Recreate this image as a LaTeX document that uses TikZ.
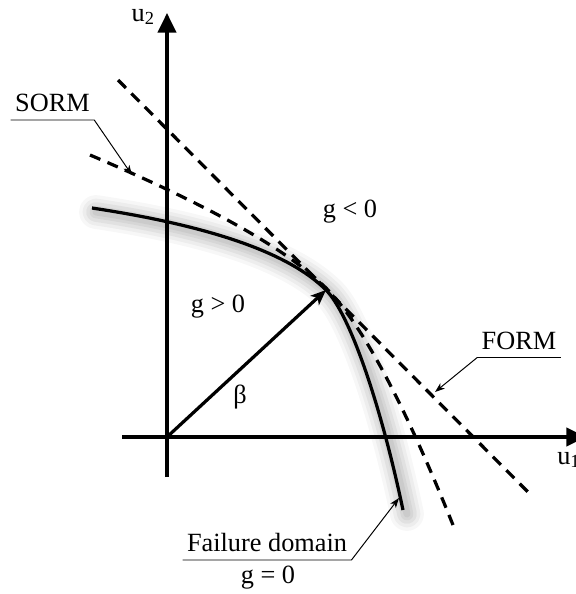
\documentclass[tikz,border=0pt]{standalone}
\usepackage{fontspec}
\setmainfont{Liberation Serif}
\usetikzlibrary{arrows.meta}

\begin{document}
\begin{tikzpicture}[
    x=0.025cm, y=-0.025cm,
    font=\fontsize{18.7}{22}\selectfont,
    axis/.style={line width=2.3pt, -{Triangle[length=14pt, width=13pt]}},
    limitstate/.style={line width=2.3pt},
    approx/.style={line width=2.3pt, dash pattern=on 8pt off 5.5pt},
    vector/.style={line width=2.3pt, -{Stealth[length=11pt, width=9pt, inset=3pt]}},
    pointer/.style={line width=0.7pt, -{Stealth[length=7pt, width=5pt, inset=2pt]}},
    lbl/.style={inner xsep=3pt, inner ysep=5.7pt, text depth=0pt},
    txt/.style={inner sep=0pt}
]
\useasboundingbox (0,0) rectangle (576,594);

% Shadow of the limit state curve
\foreach \w/\o in {24pt/0.03, 19pt/0.04, 14pt/0.05, 9pt/0.05, 5pt/0.05}
  \draw[line width=\w, black, opacity=\o, line cap=round, line join=round, shift={(4,4)}]
    (92,208) .. controls (211,226) and (289,253) .. (326,290)
    .. controls (349,313) and (380,401) .. (403,510);

% Axes
\coordinate (O) at (167,437);
\coordinate (u2low) at (167,477);
\coordinate (u2top) at (167,13);
\coordinate (u1low) at (122,437);
\coordinate (u1top) at (586,437);
\draw[axis] (u2low) -- (u2top);
\draw[axis] (u1low) -- (u1top);
\node[txt, anchor=base east] (u2) at (155,21) {u\textsubscript{2}};
\node[txt, anchor=base west] (u1) at (557,464) {u\textsubscript{1}};

% Limit state g = 0
\draw[limitstate] (92,208) .. controls (211,226) and (289,253) .. (326,290)
    .. controls (349,313) and (380,401) .. (403,510);

% FORM tangent
\draw[approx] (118,80) -- (528,492);

% SORM approximation
\draw[approx] (90,155) .. controls (208,205) and (287,249) .. (326,288)
    .. controls (362,324) and (404,403) .. (453,525);

% Reliability index
\coordinate (P) at (326,290);
\draw[vector] (O) -- (P);
\node[txt] (beta) at (240,397) {β};

% Regions
\node[txt] (gneg) at (350,212) {g < 0};
\node[txt] (gpos) at (218,307) {g > 0};

% Callouts
\node[lbl, anchor=south] (sorm) at (52.5,120) {SORM};
\coordinate (sormtip) at (132,175);
\draw[pointer] (sorm.south west) -- (sorm.south east) -- (sormtip);

\node[lbl, anchor=south] (form) at (519,357.5) {FORM};
\coordinate (formtip) at (435,392);
\draw[pointer] (form.south east) -- (form.south west) -- (formtip);

\node[lbl, anchor=south] (fail) at (267,560) {Failure domain};
\coordinate (failtip) at (399,498);
\draw[pointer] (fail.south west) -- (fail.south east) -- (failtip);
\node[txt] (gzero) at (268,578) {g = 0};

\end{tikzpicture}
\end{document}
